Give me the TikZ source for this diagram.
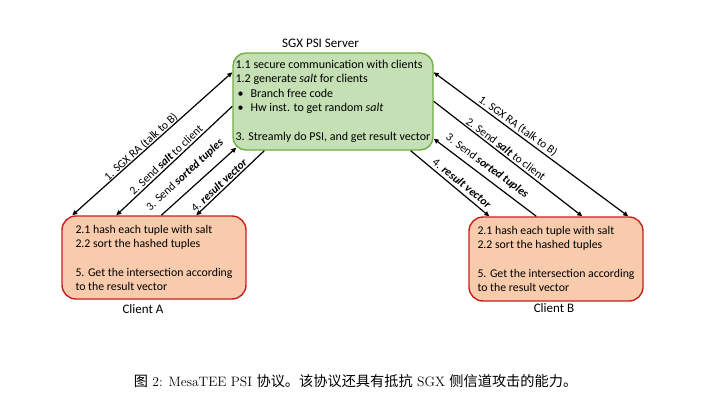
\documentclass[tikz,border=0pt]{standalone}
\usepackage{fontspec}
\usetikzlibrary{arrows.meta,calc}
\newfontfamily\calibri{Carlito}
\newfontfamily\cjk{Noto Sans CJK SC}
\definecolor{srvfill}{HTML}{C5E0B4}
\definecolor{srvdraw}{HTML}{70AD47}
\definecolor{clifill}{HTML}{F8CBAD}
\definecolor{clidraw}{HTML}{C82020}
\tikzset{
  srvbox/.style={draw=srvdraw, fill=srvfill, line width=1.4pt, rounded corners=13pt,
    minimum width=200pt, minimum height=97pt, inner sep=1pt, align=left,
    font=\calibri\fontsize{12}{14.4}\selectfont},
  clibox/.style={draw=clidraw, fill=clifill, line width=1.4pt, rounded corners=14pt,
    align=left, font=\calibri\fontsize{11.8}{14}\selectfont},
  ttl/.style={font=\calibri\fontsize{13}{15}\selectfont, inner sep=0pt},
  lbl/.style={font=\calibri\fontsize{11.5}{13}\selectfont, inner sep=0pt},
  conn/.style={line width=1.2pt, draw=black},
  tip/.tip={Triangle[length=5pt,width=4.5pt]}
}
\newcommand{\bi}[1]{\textbf{\textit{#1}}}
\newcommand{\bul}{\hspace*{2pt}\makebox[13pt][l]{\textbullet}}
\begin{document}
\begin{tikzpicture}[x=1pt,y=-1pt]
\useasboundingbox (0,0) rectangle (701,404);

% boxes
\node[srvbox] (srv) at (333,101.5) {1.1 secure communication with clients\\
1.2 generate \textit{salt} for clients\\
\bul Branch free code\\
\bul Hw inst. to get random \textit{salt}\\[14.5pt]
3. Streamly do PSI, and get result vector};

\node[clibox, minimum width=184pt, minimum height=83pt] (cliA) at (154,257.5) {2.1 hash each tuple with salt\\
2.2 sort the hashed tuples\\[15pt]
5. Get the intersection according\\
to the result vector};

\node[clibox, minimum width=174pt, minimum height=84pt] (cliB) at (556,259) {2.1 hash each tuple with salt\\
2.2 sort the hashed tuples\\[15pt]
5. Get the intersection according\\
to the result vector};

% titles
\node[ttl] (tsrv) at (320.5,43) {SGX PSI Server};
\node[ttl] (tA) at (143,309) {Client A};
\node[ttl] (tB) at (554,308) {Client B};

% endpoints
\coordinate (sa1) at ([yshift=-20pt]srv.north west);
\coordinate (sa2) at ([yshift=-54pt]srv.north west);
\coordinate (sa3) at ([xshift=4pt,yshift=3pt]srv.south west);
\coordinate (sa4) at ([xshift=32pt]srv.south west);
\coordinate (sb1) at ([yshift=-20pt]srv.north east);
\coordinate (sb2) at ([yshift=-49pt]srv.north east);
\coordinate (sb3) at ([yshift=12pt]srv.south east);
\coordinate (sb4) at ([xshift=-23pt]srv.south east);
\coordinate (ca1) at ([xshift=11pt]cliA.north west);
\coordinate (ca2) at ([xshift=55pt]cliA.north west);
\coordinate (ca3) at ([xshift=100pt]cliA.north west);
\coordinate (ca4) at ([xshift=135pt]cliA.north west);
\coordinate (cb1) at ([xshift=160pt]cliB.north west);
\coordinate (cb2) at ([xshift=114pt]cliB.north west);
\coordinate (cb3) at ([xshift=68pt]cliB.north west);
\coordinate (cb4) at ([xshift=21pt]cliB.north west);

% connectors
\draw[conn, {tip}-{tip}] (ca1) -- (sa1);
\draw[conn, -{tip}] (sa2) -- (ca2);
\draw[conn, -{tip}] (ca3) -- (sa3);
\draw[conn, -{tip}] (sa4) -- (ca4);
\draw[conn, {tip}-{tip}] (sb1) -- (cb1);
\draw[conn, -{tip}] (sb2) -- (cb2);
\draw[conn, -{tip}] (cb3) -- (sb3);
\draw[conn, -{tip}] (sb4) -- (cb4);

% labels
\node[lbl, rotate=42] (la1) at (141,147) {1. SGX RA (talk to B)};
\node[lbl, rotate=43.5] (la2) at (166,160) {2. Send \bi{salt} to client};
\node[lbl, rotate=42.6] (la3) at (185,175) {3. Send \bi{sorted tuples}};
\node[lbl, rotate=43] (la4) at (219,185) {4. \bi{result vector}};
\node[lbl, rotate=-36] (lb1) at (518,126) {1. SGX RA (talk to B)};
\node[lbl, rotate=-37] (lb2) at (506,149) {2. Send \bi{salt} to client};
\node[lbl, rotate=-36.6] (lb3) at (487,166) {3. Send \bi{sorted tuples}};
\node[lbl, rotate=-39] (lb4) at (462,183) {4. \bi{result vector}};

% caption
\node[inner sep=0pt, font=\fontsize{13.6}{16}\selectfont] (cap) at (355.5,381)
  {{\cjk\fontsize{14.2}{16}\selectfont 图} 2: MesaTEE PSI {\cjk\fontsize{14.2}{16}\selectfont 协议。该协议还具有抵抗} SGX {\cjk\fontsize{14.2}{16}\selectfont 侧信道攻击的能力。}};
\end{tikzpicture}
\end{document}
